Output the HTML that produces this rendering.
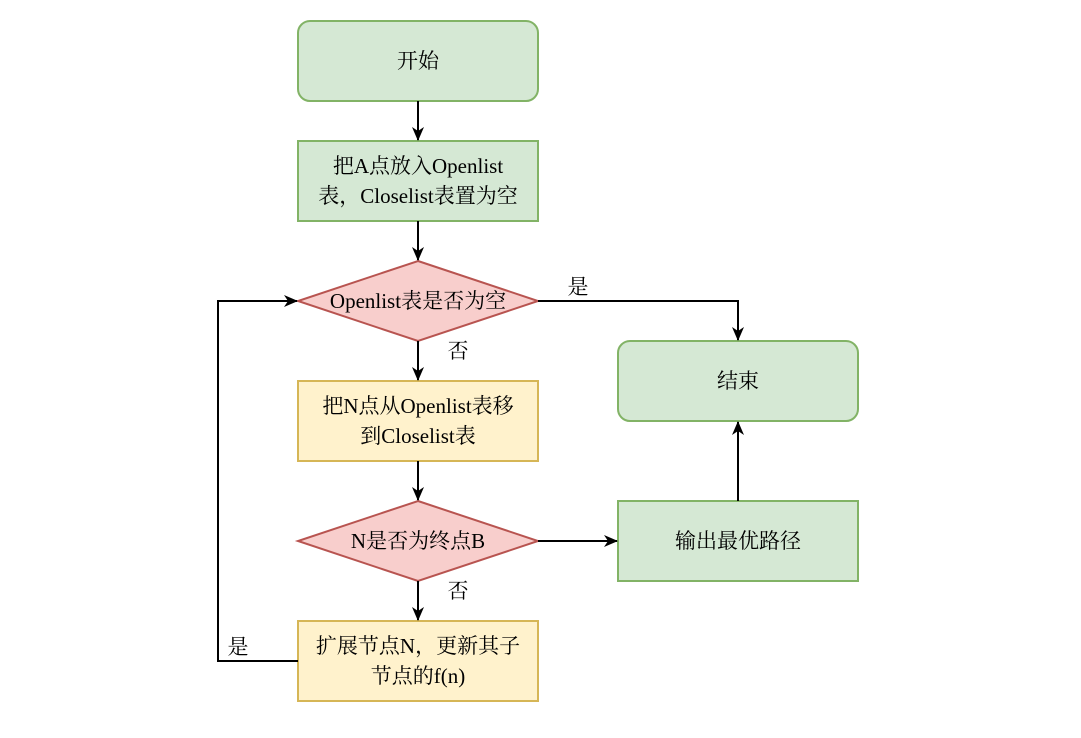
<!DOCTYPE html>
<html><head><meta charset="utf-8"><style>
html,body{margin:0;padding:0;background:#fff;}
svg text{font-family:"Liberation Serif","Noto Serif CJK SC",serif;font-size:21px;fill:#000;}
</style></head><body>
<svg width="1081" height="733" viewBox="0 0 1081 733" xmlns="http://www.w3.org/2000/svg">
<defs><marker id="a" markerWidth="14" markerHeight="14" refX="13" refY="6" orient="auto" markerUnits="userSpaceOnUse"><path d="M0,0 L14,6 L0,12 L4,6 Z" fill="#000"/></marker></defs>
<g stroke-width="2">
<rect x="298" y="21" width="240" height="80" rx="12" fill="#d5e8d4" stroke="#82b366"/>
<rect x="298" y="141" width="240" height="80" fill="#d5e8d4" stroke="#82b366"/>
<polygon points="418,261 538,301 418,341 298,301" fill="#f8cecc" stroke="#b85450"/>
<rect x="298" y="381" width="240" height="80" fill="#fff2cc" stroke="#d6b656"/>
<polygon points="418,501 538,541 418,581 298,541" fill="#f8cecc" stroke="#b85450"/>
<rect x="298" y="621" width="240" height="80" fill="#fff2cc" stroke="#d6b656"/>
<rect x="618" y="341" width="240" height="80" rx="12" fill="#d5e8d4" stroke="#82b366"/>
<rect x="618" y="501" width="240" height="80" fill="#d5e8d4" stroke="#82b366"/>
</g>
<g stroke="#000" stroke-width="2" fill="none" marker-end="url(#a)">
<path d="M418,101 L418,140"/>
<path d="M418,221 L418,260"/>
<path d="M538,301 L738,301 L738,340"/>
<path d="M418,341 L418,380"/>
<path d="M418,461 L418,500"/>
<path d="M538,541 L617,541"/>
<path d="M418,581 L418,620"/>
<path d="M298,661 L218,661 L218,301 L297,301"/>
<path d="M738,501 L738,422"/>
</g>
<g text-anchor="middle">
<text x="418" y="68">开始</text>
<text x="418" y="173">把A点放入Openlist</text>
<text x="418" y="203">表，Closelist表置为空</text>
<text x="418" y="308">Openlist表是否为空</text>
<text x="418" y="413">把N点从Openlist表移</text>
<text x="418" y="443">到Closelist表</text>
<text x="418" y="548">N是否为终点B</text>
<text x="418" y="653">扩展节点N，更新其子</text>
<text x="418" y="683">节点的f(n)</text>
<text x="738" y="388">结束</text>
<text x="738" y="548">输出最优路径</text>
<text x="578" y="294">是</text>
<text x="458" y="358">否</text>
<text x="458" y="598">否</text>
<text x="238" y="654">是</text>
</g>
</svg>
</body></html>
